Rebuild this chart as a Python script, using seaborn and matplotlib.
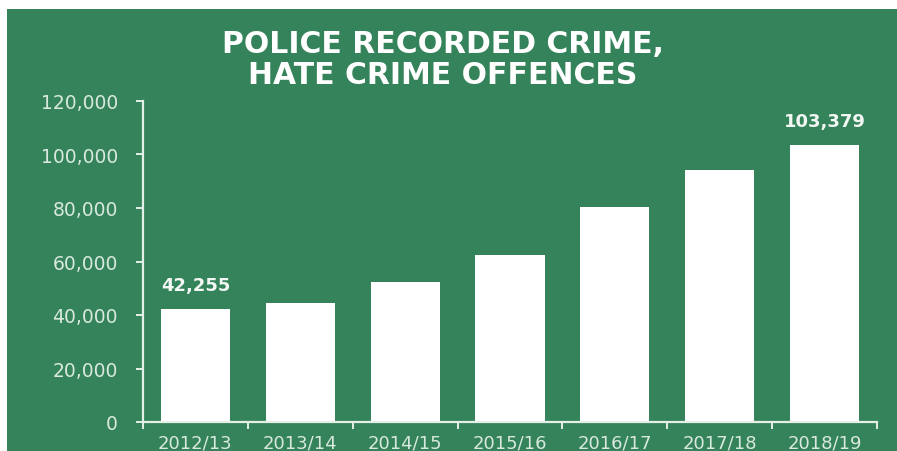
import matplotlib
matplotlib.use("Agg")
import matplotlib.pyplot as plt
from matplotlib.patches import Rectangle
import seaborn as sns
import pandas as pd

# Police recorded hate crime offences, England and Wales
years = ["2012/13", "2013/14", "2014/15", "2015/16", "2016/17", "2017/18", "2018/19"]
offences = [42255, 44577, 52465, 62518, 80393, 94098, 103379]
labelled = {0: "42,255", 6: "103,379"}
y_ticks = [0, 20000, 40000, 60000, 80000, 100000, 120000]
y_tick_labels = ["0", "20,000", "40,000", "60,000", "80,000", "100,000", "120,000"]
title = "POLICE RECORDED CRIME,\nHATE CRIME OFFENCES"

GREEN = "#35835A"
AXIS = "#e4efe8"
LABEL = "#d9e9df"

sns.set_theme(style="white")
plt.rcParams["font.family"] = ["DejaVu Sans"]

W, H = 897, 452
fig = plt.figure(figsize=(W / 100, H / 100), dpi=100, facecolor="white")

# green panel behind the chart
fig.patches.append(Rectangle((7 / W, 0), 1 - 7 / W, 1 - 10 / H,
                             transform=fig.transFigure, facecolor=GREEN,
                             edgecolor="none", zorder=0))

ax = fig.add_axes([143 / W, 1 - 423 / H, (877 - 143) / W, (423 - 102) / H])
ax.set_facecolor("none")
ax.set_zorder(2)

df = pd.DataFrame({"year": years, "offences": offences})
sns.barplot(data=df, x="year", y="offences", color="white", width=0.66,
            saturation=1, edgecolor="none", ax=ax)

ax.set_xlim(-0.5, len(years) - 0.5)
ax.set_ylim(0, 120000)
ax.set_yticks(y_ticks)
ax.set_yticklabels(y_tick_labels)
ax.set_xlabel("")
ax.set_ylabel("")

for s in ["top", "right"]:
    ax.spines[s].set_visible(False)
for s in ["left", "bottom"]:
    ax.spines[s].set_color(AXIS)
    ax.spines[s].set_linewidth(1.6)

ax.tick_params(axis="y", direction="out", length=5, width=1.4, color=AXIS,
               pad=13, labelsize=13.5, labelcolor=LABEL, left=True)
ax.tick_params(axis="x", which="major", length=0, pad=8, labelsize=13,
               labelcolor=LABEL, bottom=True)
ax.set_xticks([i - 0.5 for i in range(len(years) + 1)], minor=True)
ax.tick_params(axis="x", which="minor", direction="out", length=5, width=1.4,
               color=AXIS, bottom=True)

for i, text in labelled.items():
    ax.annotate(text, (i, offences[i]), xytext=(0, 11), textcoords="offset points",
                ha="center", va="bottom", fontsize=13, fontweight="bold",
                color="#f2f7f4")

fig.text(443 / W, 1 - 60 / H, title, ha="center", va="center", fontsize=21.5,
         fontweight="bold", color="white", linespacing=1.12, zorder=3)

fig.savefig("out.png", dpi=100, facecolor="white")
